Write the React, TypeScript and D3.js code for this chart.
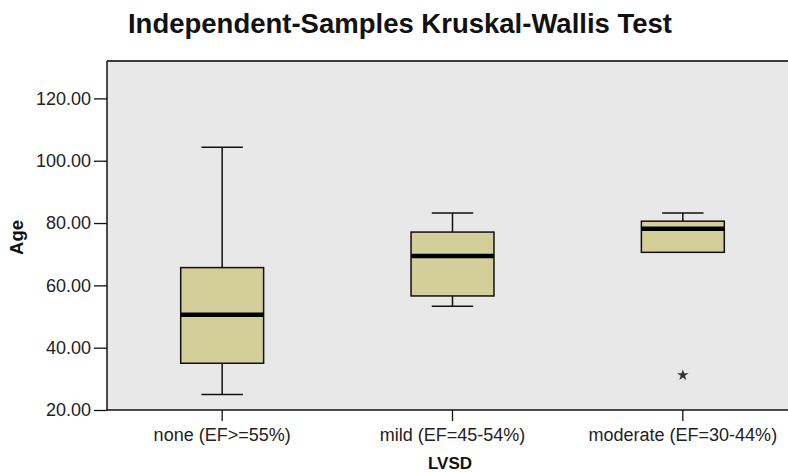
import React, { useRef, useEffect } from "react"
import * as d3 from "d3"

// values
const groups = ["none (EF>=55%)", "mild (EF=45-54%)", "moderate (EF=30-44%)"]
const whiskerLow = [25, 53.3, 70.6]
const q1 = [35, 56.6, 70.6]
const medians = [50.6, 69.4, 78.2]
const q3 = [65.7, 77.1, 80.6]
const whiskerHigh = [104.3, 83.2, 83.2]
const extremes = [[], [], [31.2]]
const yTicks = [20, 40, 60, 80, 100, 120]

export default function App() {
  const svgRef = useRef(null)

  useEffect(() => {
    const width = 788, height = 472
    const left = 107, right = 798, top = 61, bottom = 410

    const svg = d3.select(svgRef.current)
    svg.selectAll("*").remove()
    svg.attr("width", width).attr("height", height)

    const font = "'Liberation Sans', Arial, sans-serif"

    var x = d3.scaleBand().domain(groups).range([left, right]).padding(0)
    var y = d3.scaleLinear().domain([20, 132]).range([bottom, top])

    // plot background
    svg.append("rect")
      .attr("x", left).attr("y", top)
      .attr("width", right - left).attr("height", bottom - top)
      .attr("fill", "#e8e8e8")
    svg.append("line")
      .attr("x1", left).attr("x2", right).attr("y1", top).attr("y2", top)
      .attr("stroke", "#3c3c3c").attr("stroke-width", 2)

    // y axis
    const yAxis = svg.append("g")
      .attr("transform", "translate(" + left + ",0)")
      .call(d3.axisLeft(y).tickValues(yTicks).tickSize(13).tickPadding(3).tickFormat(d3.format(".2f")))
    yAxis.select(".domain").attr("stroke", "#111").attr("stroke-width", 1.5).attr("d", "M0," + top + "V" + bottom)
    yAxis.selectAll(".tick line").attr("stroke", "#111").attr("stroke-width", 1.3)
    yAxis.selectAll("text").attr("font-family", font).attr("font-size", 18).attr("fill", "#222")

    // x axis
    const xAxis = svg.append("g")
      .attr("transform", "translate(0," + bottom + ")")
      .call(d3.axisBottom(x).tickSize(11).tickPadding(7))
    xAxis.select(".domain").attr("stroke", "#111").attr("stroke-width", 1.5).attr("d", "M" + left + ",0H" + right)
    xAxis.selectAll(".tick line").attr("stroke", "#111").attr("stroke-width", 1.3)
    xAxis.selectAll("text").attr("font-family", font).attr("font-size", 18).attr("fill", "#222")

    // boxes
    const bw = x.bandwidth() * 0.36
    const g = svg.append("g")
    groups.forEach((name, i) => {
      const cx = x(name) + x.bandwidth() / 2
      const stroke = "#111"
      g.append("line")
        .attr("x1", cx).attr("x2", cx)
        .attr("y1", y(whiskerHigh[i])).attr("y2", y(q3[i]))
        .attr("stroke", stroke).attr("stroke-width", 1.5)
      g.append("line")
        .attr("x1", cx).attr("x2", cx)
        .attr("y1", y(q1[i])).attr("y2", y(whiskerLow[i]))
        .attr("stroke", stroke).attr("stroke-width", 1.5)
      g.append("line")
        .attr("x1", cx - bw / 4).attr("x2", cx + bw / 4)
        .attr("y1", y(whiskerHigh[i])).attr("y2", y(whiskerHigh[i]))
        .attr("stroke", stroke).attr("stroke-width", 1.5)
      g.append("line")
        .attr("x1", cx - bw / 4).attr("x2", cx + bw / 4)
        .attr("y1", y(whiskerLow[i])).attr("y2", y(whiskerLow[i]))
        .attr("stroke", stroke).attr("stroke-width", 1.5)
      g.append("rect")
        .attr("x", cx - bw / 2).attr("y", y(q3[i]))
        .attr("width", bw).attr("height", y(q1[i]) - y(q3[i]))
        .attr("fill", "#d3cf9b").attr("stroke", stroke).attr("stroke-width", 1.5)
      g.append("line")
        .attr("x1", cx - bw / 2).attr("x2", cx + bw / 2)
        .attr("y1", y(medians[i])).attr("y2", y(medians[i]))
        .attr("stroke", "#000").attr("stroke-width", 4.5)
      extremes[i].forEach(v => {
        g.append("path")
          .attr("d", d3.symbol(d3.symbolStar).size(40)())
          .attr("transform", "translate(" + cx + "," + y(v) + ")")
          .attr("fill", "#333")
      })
    })

    // titles
    svg.append("text")
      .attr("x", 400).attr("y", 33)
      .attr("text-anchor", "middle")
      .attr("font-family", font).attr("font-weight", "bold").attr("font-size", 27.5)
      .attr("fill", "#111")
      .text("Independent-Samples Kruskal-Wallis Test")
    svg.append("text")
      .attr("transform", "translate(23," + ((top + bottom) / 2 + 2) + ") rotate(-90)")
      .attr("text-anchor", "middle")
      .attr("font-family", font).attr("font-weight", "bold").attr("font-size", 18.5)
      .attr("fill", "#111")
      .text("Age")
    svg.append("text")
      .attr("x", 450).attr("y", 469)
      .attr("text-anchor", "middle")
      .attr("font-family", font).attr("font-weight", "bold").attr("font-size", 17)
      .attr("fill", "#111")
      .text("LVSD")
  }, [])

  return (
    <svg ref={svgRef} style={{ position: "absolute", left: 0, top: 0, background: "#fff" }}></svg>
  )
}
